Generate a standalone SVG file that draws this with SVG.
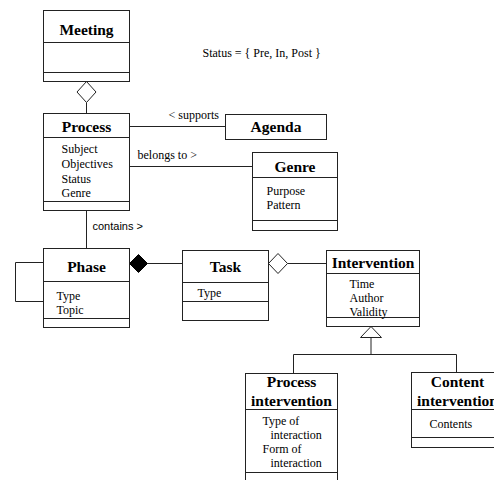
<svg xmlns="http://www.w3.org/2000/svg" width="494" height="480" viewBox="0 0 494 480">
<style>
.box{fill:#fff;stroke:#222;stroke-width:1}
.ln{fill:none;stroke:#222;stroke-width:1}
.t{font-family:"Liberation Serif","Times New Roman",serif;font-size:15.5px;font-weight:bold;text-anchor:middle;fill:#000}
.a{font-family:"Liberation Serif","Times New Roman",serif;font-size:12px;fill:#000}
.s{font-family:"Liberation Sans",Arial,sans-serif;font-size:11px;fill:#000}
</style>
<rect width="494" height="480" fill="#fff"/>
<g transform="translate(0.5,0.5)">
<g id="connectors">
<line class="ln" x1="86" y1="102" x2="86" y2="113"/>
<polygon class="ln" points="86,81 95.5,91.5 86,102 76.5,91.5" style="fill:#fff"/>
<line class="ln" x1="129" y1="126" x2="225" y2="126"/>
<text class="a" x="168" y="118">&lt; supports</text>
<line class="ln" x1="129" y1="166" x2="252" y2="166"/>
<text class="a" x="137" y="158">belongs to &gt;</text>
<line class="ln" x1="86" y1="210" x2="86" y2="248"/>
<text class="s" x="92" y="229">contains &gt;</text>
<polyline class="ln" points="43,262 15,262 15,301 43,301"/>
<line class="ln" x1="147" y1="263" x2="182" y2="263"/>
<polygon points="129,263 138,254 147,263 138,272" fill="#000" stroke="#000"/>
<line class="ln" x1="287" y1="263" x2="326" y2="263"/>
<polygon class="ln" points="268,263 277.5,253 287,263 277.5,273" style="fill:#fff"/>
<polygon class="ln" points="370.5,326 381,337 360,337" style="fill:#fff"/>
<line class="ln" x1="370.5" y1="337" x2="370.5" y2="354"/>
<polyline class="ln" points="293,373 293,354 456,354 456,372"/>
</g>
<text class="a" x="202" y="56">Status = { Pre, In, Post }</text>
<g id="meeting">
<rect class="box" x="43" y="10" width="86" height="71"/>
<line class="ln" x1="43" y1="42" x2="129" y2="42"/>
<line class="ln" x1="43" y1="72" x2="129" y2="72"/>
<text class="t" x="86" y="34">Meeting</text>
</g>
<g id="process">
<rect class="box" x="43" y="113" width="86" height="97"/>
<line class="ln" x1="43" y1="137" x2="129" y2="137"/>
<line class="ln" x1="43" y1="201" x2="129" y2="201"/>
<text class="t" x="86" y="131">Process</text>
<text class="a" x="61" y="152">Subject</text>
<text class="a" x="61" y="167">Objectives</text>
<text class="a" x="61" y="182">Status</text>
<text class="a" x="61" y="196">Genre</text>
</g>
<g id="agenda">
<rect class="box" x="225" y="114" width="101" height="25"/>
<text class="t" x="275.5" y="131">Agenda</text>
</g>
<g id="genre">
<rect class="box" x="252" y="152" width="85" height="78"/>
<line class="ln" x1="252" y1="177" x2="337" y2="177"/>
<line class="ln" x1="252" y1="220" x2="337" y2="220"/>
<text class="t" x="294.5" y="171">Genre</text>
<text class="a" x="266" y="194">Purpose</text>
<text class="a" x="266" y="208">Pattern</text>
</g>
<g id="phase">
<rect class="box" x="43" y="248" width="86" height="79"/>
<line class="ln" x1="43" y1="281" x2="129" y2="281"/>
<line class="ln" x1="43" y1="318" x2="129" y2="318"/>
<text class="t" x="86" y="271">Phase</text>
<text class="a" x="56" y="299">Type</text>
<text class="a" x="56" y="313">Topic</text>
</g>
<g id="task">
<rect class="box" x="182" y="250" width="86" height="70"/>
<line class="ln" x1="182" y1="282" x2="268" y2="282"/>
<line class="ln" x1="182" y1="301" x2="268" y2="301"/>
<text class="t" x="225" y="271">Task</text>
<text class="a" x="197" y="296">Type</text>
</g>
<g id="intervention">
<rect class="box" x="326" y="250" width="93" height="76"/>
<line class="ln" x1="326" y1="273" x2="419" y2="273"/>
<line class="ln" x1="326" y1="317" x2="419" y2="317"/>
<text class="t" x="372.5" y="267">Intervention</text>
<text class="a" x="349" y="287">Time</text>
<text class="a" x="349" y="301">Author</text>
<text class="a" x="349" y="315">Validity</text>
</g>
<g id="process-intervention">
<rect class="box" x="245" y="373" width="92" height="112"/>
<line class="ln" x1="245" y1="409" x2="337" y2="409"/>
<line class="ln" x1="245" y1="472" x2="337" y2="472"/>
<text class="t" x="291" y="386">Process</text>
<text class="t" x="291" y="405">intervention</text>
<text class="a" x="262" y="424">Type of</text>
<text class="a" x="270" y="438">interaction</text>
<text class="a" x="262" y="452">Form of</text>
<text class="a" x="270" y="466">interaction</text>
</g>
<g id="content-intervention">
<rect class="box" x="411" y="372" width="95" height="75"/>
<line class="ln" x1="411" y1="409" x2="506" y2="409"/>
<line class="ln" x1="411" y1="437" x2="506" y2="437"/>
<text class="t" x="457" y="386">Content</text>
<text class="t" x="457" y="405">intervention</text>
<text class="a" x="429" y="427">Contents</text>
</g>
</g>
</svg>
